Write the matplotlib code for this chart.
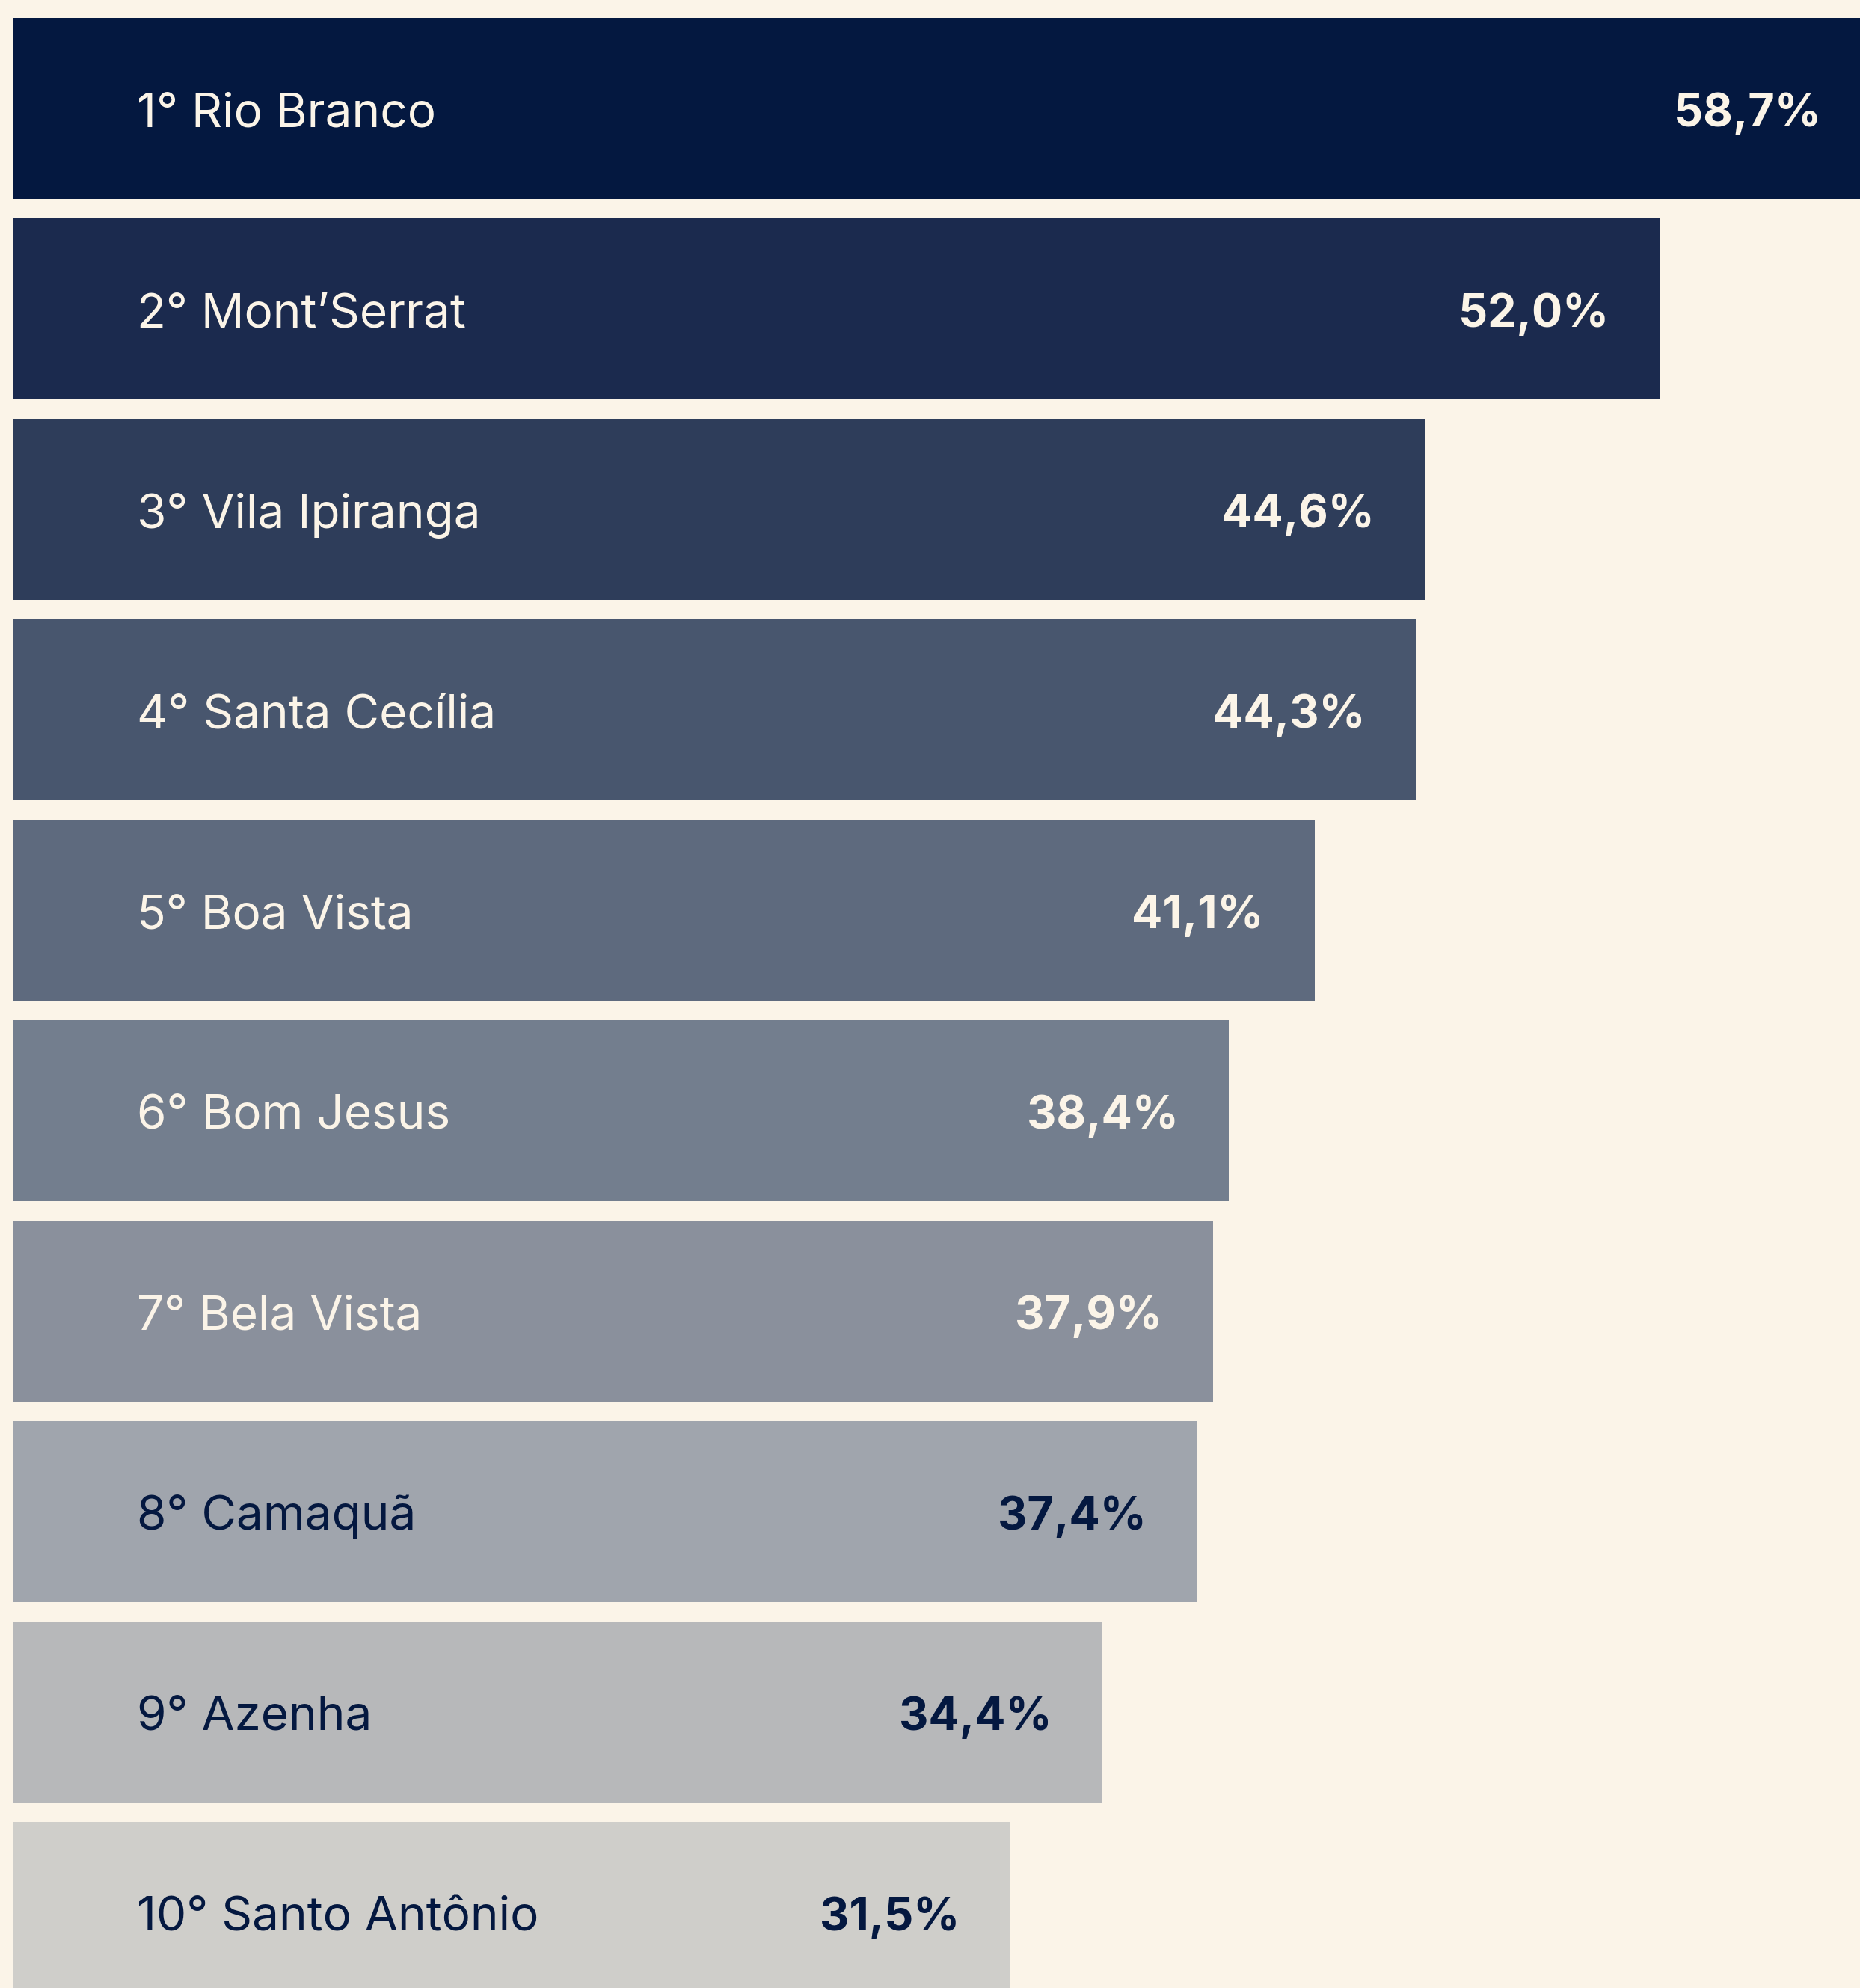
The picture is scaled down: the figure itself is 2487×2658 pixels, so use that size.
import matplotlib
matplotlib.use("Agg")
import matplotlib.pyplot as plt

# dados
bairros = ["1° Rio Branco", "2° Mont’Serrat", "3° Vila Ipiranga", "4° Santa Cecília",
           "5° Boa Vista", "6° Bom Jesus", "7° Bela Vista", "8° Camaquã",
           "9° Azenha", "10° Santo Antônio"]
valores = [58.7, 52.0, 44.6, 44.3, 41.1, 38.4, 37.9, 37.4, 34.4, 31.5]
rotulos = ["58,7%", "52,0%", "44,6%", "44,3%", "41,1%", "38,4%", "37,9%", "37,4%", "34,4%", "31,5%"]

cores = ["#041840", "#1b2a4e", "#2e3d5a", "#48566e", "#5e6a7e",
         "#737e8e", "#8a909c", "#a0a5ad", "#b7b8ba", "#cfceca"]
fundo = "#fbf4e8"
claro = "#fbf4e8"
escuro = "#041840"

plt.rcParams['font.family'] = ['Inter', 'DejaVu Sans']

fig = plt.figure(figsize=(24.87, 26.58), dpi=100, facecolor=fundo)
ax = fig.add_axes([0, 0, 1, 1])
ax.set_facecolor(fundo)

y = list(range(len(bairros)))
ax.barh(y, valores, height=0.903, color=cores)

px = 1 / 42.33  # unidades por pixel (eixo x)
dy = 24 / 268   # meia altura das maiúsculas (eixo y)
for i, (nome, v, r) in enumerate(zip(bairros, valores, rotulos)):
    cor_txt = claro if i < 7 else escuro
    ax.text(165 * px, i + dy, nome, va='baseline', ha='left', fontsize=46, color=cor_txt)
    ax.text(v - 68 * px, i + dy, r, va='baseline', ha='right', fontsize=44,
            fontweight='bold', color=cor_txt)

ax.set_xlim(-18 * px, 2469 * px)
ax.set_ylim((2658 - 145) / 268, -145 / 268)
ax.axis('off')

fig.savefig("out.png", dpi=100, facecolor=fundo)
